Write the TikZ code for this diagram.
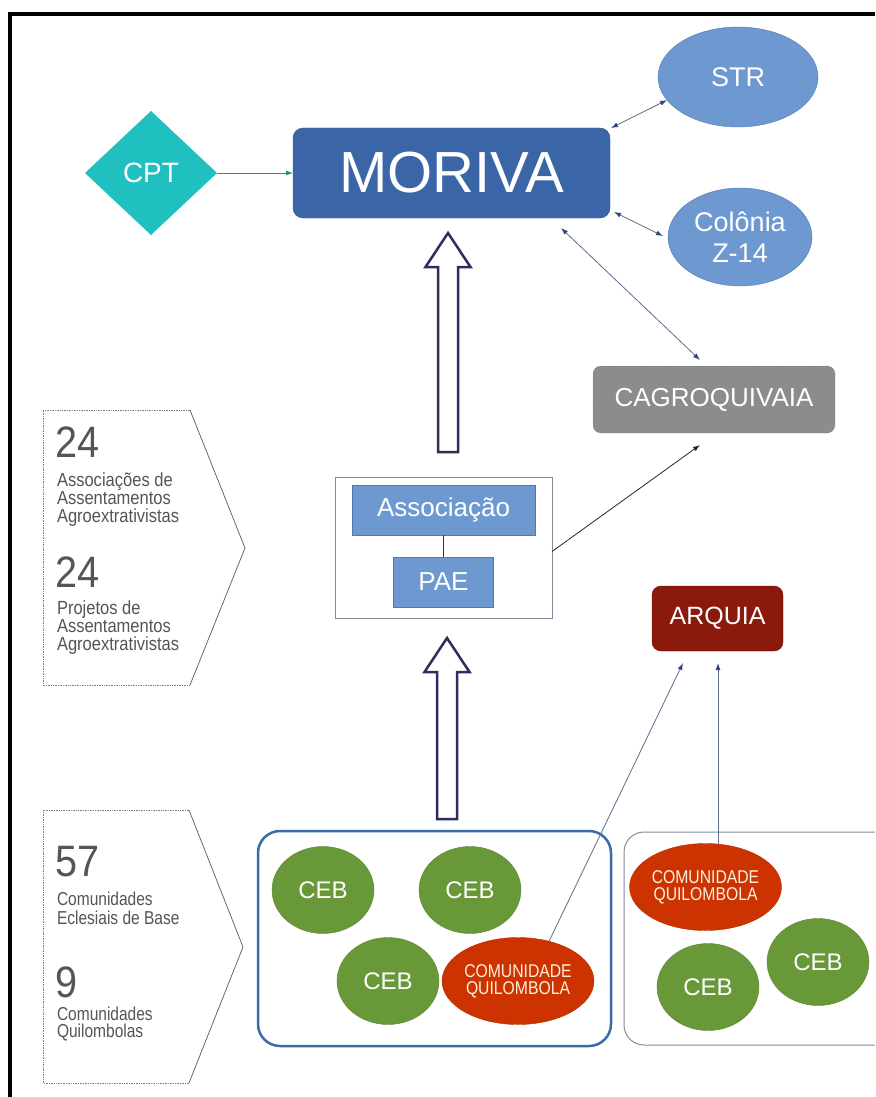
\documentclass[tikz,border=0pt]{standalone}
\usepackage{fontspec}
\setmainfont{Liberation Sans}
\newfontfamily\condfont[FakeStretch=0.83]{Liberation Sans}
\newfontfamily\upfont[FakeStretch=0.87]{Liberation Sans}
\newfontfamily\digfont[FakeStretch=0.9]{Liberation Sans}
\newfontfamily\quilfont[FakeStretch=0.85]{Liberation Sans}
\usetikzlibrary{shapes.geometric,arrows.meta,calc}
\definecolor{moriva}{RGB}{58,102,168}
\definecolor{morivaedge}{RGB}{45,85,150}
\definecolor{cptcol}{RGB}{32,192,192}
\definecolor{lightblue}{RGB}{110,153,208}
\definecolor{lightedge}{RGB}{80,120,180}
\definecolor{cagrocol}{RGB}{140,140,140}
\definecolor{arquiacol}{RGB}{138,26,12}
\definecolor{cebcol}{RGB}{104,152,56}
\definecolor{quilcol}{RGB}{204,51,0}
\definecolor{quiltext}{RGB}{255,240,220}
\definecolor{navy}{RGB}{45,45,95}
\definecolor{linkcol}{RGB}{95,110,140}
\definecolor{headcol}{RGB}{50,70,125}
\definecolor{textgray}{RGB}{85,85,85}
\definecolor{grpblue}{RGB}{60,108,168}
\definecolor{grpgray}{RGB}{130,140,155}
\definecolor{arrowgreen}{RGB}{40,150,80}
\tikzset{
  fsz/.style={font=\fontsize{#1}{#1}\selectfont},
  bigtxt/.style={font=\digfont\fontsize{44}{44}\selectfont, text=textgray, anchor=base west},
  uppertxt/.style={font=\upfont\fontsize{19}{19}\selectfont, text=textgray, anchor=base west},
  lowertxt/.style={font=\condfont\fontsize{18.7}{18}\selectfont, text=textgray, anchor=base west},
  ceb/.style={ellipse, fill=cebcol, draw=cebcol!90!black, minimum width=102pt, minimum height=87pt, text=white, fsz=24},
  quil/.style={ellipse, fill=quilcol, draw=quilcol!90!black, minimum width=122pt, minimum height=87pt, text=quiltext, align=center, font=\quilfont\fontsize{18.5}{17}\selectfont},
  bluebox/.style={fill=lightblue, draw=lightedge, minimum height=50pt, text=white, fsz=26},
  link/.style={draw=linkcol, line width=0.8pt, {Latex[length=7pt,width=5pt,color=headcol]}-{Latex[length=7pt,width=5pt,color=headcol]}},
  onelink/.style={draw=linkcol, line width=0.8pt, -{Latex[length=7pt,width=5pt,color=headcol]}},
  blockarrow/.style={draw=navy, line width=2.5pt, fill=white, line join=miter},
  chevron/.style={draw=gray, densely dotted, line width=0.7pt},
  chevside/.style={draw=gray!70!black, line width=0.7pt}
}
\begin{document}
\begin{tikzpicture}[x=1pt,y=-1pt, every node/.style={inner sep=0pt, outer sep=0pt}]
\useasboundingbox (0,0) rectangle (875,1097);
\fill[white] (0,0) rectangle (875,1097);
\draw[line width=4pt] (10,1097) -- (10,14) -- (875,14);

% main nodes
\node[fill=moriva, draw=morivaedge, rounded corners=10pt, minimum width=317pt, minimum height=90pt, text=white, fsz=58] (moriva) at (451.5,173) {MORIVA};
\node[diamond, fill=cptcol, minimum width=132pt, minimum height=124pt, text=white, fsz=28] (cpt) at (151,173) {CPT};
\node[ellipse, fill=lightblue, draw=lightedge, minimum width=160pt, minimum height=100pt, text=white, fsz=27] (str) at (738,77) {STR};
\node[ellipse, fill=lightblue, draw=lightedge, minimum width=144pt, minimum height=98pt, text=white, align=center, font=\fontsize{27}{31}\selectfont] (col) at (740,237) {Colônia\\Z-14};
\node[fill=cagrocol, draw=gray!60!black, densely dotted, rounded corners=8pt, minimum width=242pt, minimum height=67pt, text=white, fsz=26] (cagro) at (714,399.5) {CAGROQUIVAIA};
\node[fill=arquiacol, draw=arquiacol!80!black, rounded corners=9pt, minimum width=131pt, minimum height=65pt, text=white, fsz=25] (arquia) at (717.5,618.5) {ARQUIA};

% association group
\node[draw=grpgray, line width=0.9pt, minimum width=217pt, minimum height=141pt] (assocbox) at (443.5,547.5) {};
\node[bluebox, minimum width=183pt] (assoc) at (443.5,510) {Associação};
\node[bluebox, minimum width=100pt] (pae) at (443.5,582) {PAE};
\draw[line width=0.8pt, black!80] (assoc.south) -- (pae.north);

% community groups
\node[draw=grpblue, line width=2.5pt, rounded corners=22pt, minimum width=353pt, minimum height=215pt] (grp1) at (434.5,938.5) {};
\draw[grpgray, line width=1pt, rounded corners=20pt] (875,832) -- (624,832) -- (624,1045) -- (875,1045);
\node[ceb] (ceb1) at (323,890) {CEB};
\node[ceb] (ceb2) at (470,890) {CEB};
\node[ceb] (ceb3) at (388,981) {CEB};
\node[quil] (q1) at (518,981) {COMUNIDADE\\QUILOMBOLA};
\node[quil, minimum width=123pt] (q2) at (705.5,887) {COMUNIDADE\\QUILOMBOLA};
\node[ceb] (ceb4) at (708,987) {CEB};
\node[ceb] (ceb5) at (818,962) {CEB};

% connectors
\draw[draw=arrowgreen, line width=0.9pt, -{Latex[length=7pt,width=5pt]}] (cpt.east) -- (moriva.west);
\draw[link] ($(moriva.north east)+(1,0)$) -- (str.198);
\draw[link] ($(moriva.south east)+(4,-6)$) -- ($(col.west)+(-5,-1)$);
\draw[link] ($(moriva.south)+(109.5,10)$) -- ($(cagro.north)+(-14,-6)$);
\draw[black!85, line width=0.8pt, -{Latex[length=7pt,width=5pt]}] ($(assocbox.east)+(0,4)$) -- ($(cagro.south)+(-14,12)$);
\draw[onelink] (q1.52) -- ($(arquia.south)+(-34.5,12)$);
\draw[onelink] ($(q2.north)+(12.5,0)$) -- ($(arquia.south)+(0.5,12)$);

% block arrows
\coordinate (b1) at ($(assocbox.north)+(4.5,-25)$);
\coordinate (t1) at ($(moriva.south)+(-3.5,15)$);
\draw[blockarrow] ($(b1)+(-10,0)$) -- ($(t1)+(-10,34)$) -- ($(t1)+(-22.5,34)$) -- (t1) -- ($(t1)+(22.5,34)$) -- ($(t1)+(10,34)$) -- ($(b1)+(10,0)$) -- cycle;
\coordinate (b2) at ($(grp1.north)+(12.5,-12)$);
\coordinate (t2) at ($(assocbox.south)+(3.5,20)$);
\draw[blockarrow] ($(b2)+(-10,0)$) -- ($(t2)+(-10,34)$) -- ($(t2)+(-22.5,34)$) -- (t2) -- ($(t2)+(22.5,34)$) -- ($(t2)+(10,34)$) -- ($(b2)+(10,0)$) -- cycle;

% left chevrons
\draw[chevron] (190,410) -- (43,410) -- (43,685) -- (190,685);
\draw[chevside] (190,410) -- (245,548) -- (190,685);
\draw[chevron] (189,810) -- (43,810) -- (43,1083) -- (189,1083);
\draw[chevside] (189,810) -- (243,947) -- (189,1083);

\node[bigtxt] (n24a) at (55,457) {24};
\node[uppertxt] (l1) at (57,486) {Associações de};
\node[uppertxt] (l2) at (57,504.5) {Assentamentos};
\node[uppertxt] (l3) at (57,522) {Agroextrativistas};
\node[bigtxt] (n24b) at (55,587) {24};
\node[uppertxt] (l4) at (57,614) {Projetos de};
\node[uppertxt] (l5) at (57,632.5) {Assentamentos};
\node[uppertxt] (l6) at (57,650) {Agroextrativistas};

\node[bigtxt] (n57) at (55,876) {57};
\node[lowertxt] (l7) at (57,905) {Comunidades};
\node[lowertxt] (l8) at (57,924) {Eclesiais de Base};
\node[bigtxt] (n9) at (55,997) {9};
\node[lowertxt] (l9) at (57,1020) {Comunidades};
\node[lowertxt] (l10) at (57,1037) {Quilombolas};
\end{tikzpicture}
\end{document}
